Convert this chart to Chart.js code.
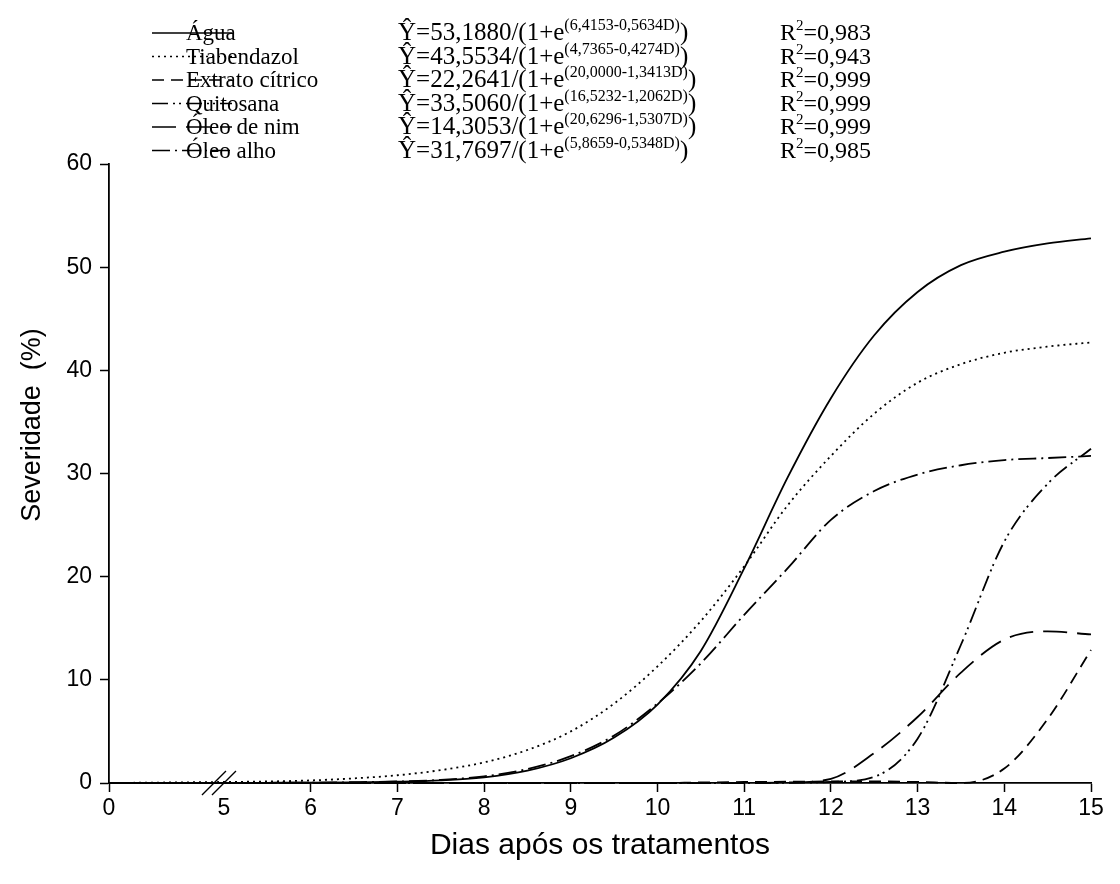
<!DOCTYPE html>
<html>
<head>
<meta charset="utf-8">
<script src="https://cdn.jsdelivr.net/npm/chart.js@4.4.0/dist/chart.umd.min.js"></script>
<style>
    html, body { margin: 0; padding: 0; background: #fff; }
</style>
</head>
<body>
<canvas id="lineChart" width="1120" height="884"></canvas>
<script>
// days after treatment
const days = [0, 5, 5.5, 6, 6.5, 7, 7.5, 8, 8.5, 9, 9.5, 10, 10.5, 11, 11.5, 12, 12.5, 13, 13.5, 14, 14.5, 15];

const agua        = [0, 0.01, 0.02, 0.03, 0.06, 0.12, 0.25, 0.55, 1.2, 2.4, 4.4, 7.6, 12.8, 20.8, 29.6, 37.3, 43.4, 47.6, 50.2, 51.5, 52.3, 52.8];
const tiabendazol = [0, 0.1, 0.15, 0.25, 0.45, 0.75, 1.25, 2.0, 3.2, 5.0, 7.7, 11.3, 15.7, 21.0, 26.9, 31.7, 35.8, 38.8, 40.6, 41.7, 42.3, 42.7];
const extrato     = [0, 0, 0, 0, 0, 0, 0, 0, 0, 0, 0, 0, 0.05, 0.1, 0.12, 0.15, 0.15, 0.1, 0, 1.4, 6.2, 12.9];
const quitosana   = [0, 0, 0, 0, 0, 0, 0, 0, 0, 0, 0, 0, 0, 0, 0.02, 0.1, 0.6, 4.3, 13.4, 23.4, 29.0, 32.4];
const oleoNim     = [0, 0, 0, 0, 0, 0, 0, 0, 0, 0, 0, 0, 0, 0, 0.05, 0.4, 2.9, 6.4, 10.7, 13.9, 14.7, 14.4];
const oleoAlho    = [0, 0.01, 0.02, 0.04, 0.08, 0.15, 0.3, 0.65, 1.35, 2.6, 4.6, 7.7, 11.6, 16.3, 20.8, 25.5, 28.3, 29.9, 30.8, 31.3, 31.5, 31.7];

const seriesNames = ['Água', 'Tiabendazol', 'Extrato cítrico', 'Quitosana', 'Óleo de nim', 'Óleo alho'];
const eqCoef = ['53,1880', '43,5534', '22,2641', '33,5060', '14,3053', '31,7697'];
const eqExp = ['6,4153-0,5634D', '4,7365-0,4274D', '20,0000-1,3413D', '16,5232-1,2062D', '20,6296-1,5307D', '5,8659-0,5348D'];
const r2 = ['0,983', '0,943', '0,999', '0,999', '0,999', '0,985'];

const tickDays = [0, 5, 6, 7, 8, 9, 10, 11, 12, 13, 14, 15];
const tickLabels = ['0', '5', '6', '7', '8', '9', '10', '11', '12', '13', '14', '15'];

// broken x axis: 0..5 squeezed into a short stretch
const BREAK_AT = 5;
const ZERO_POS = 3.674;
function toAxis(d) {
    return d >= BREAK_AT ? d : ZERO_POS + d * (BREAK_AT - ZERO_POS) / BREAK_AT;
}

function points(values) {
    return days.map((d, i) => ({ x: toAxis(d), y: values[i] }));
}

const serif = '"Liberation Serif", "Times New Roman", serif';
const sans = '"Liberation Sans", Arial, sans-serif';

const eqLegend = {
    id: 'eqLegend',
    afterDraw(chart) {
        const ctx = chart.ctx;
        ctx.save();
        ctx.fillStyle = '#000';
        ctx.strokeStyle = '#000';
        ctx.textBaseline = 'alphabetic';
        chart.data.datasets.forEach((ds, i) => {
            const y = 33 + i * 23.5;
            const base = y + 7;
            ctx.lineWidth = 1.6;
            ctx.setLineDash(ds.borderDash || []);
            ctx.beginPath();
            ctx.moveTo(152, y);
            ctx.lineTo(232, y);
            ctx.stroke();
            ctx.setLineDash([]);

            ctx.font = '23px ' + serif;
            ctx.fillText(seriesNames[i], 186, base);

            let x = 398;
            const head = 'Ŷ=' + eqCoef[i] + '/(1+e';
            ctx.font = '25px ' + serif;
            ctx.fillText(head, x, base);
            x += ctx.measureText(head).width;
            ctx.font = '16px ' + serif;
            const sup = '(' + eqExp[i] + ')';
            ctx.fillText(sup, x, base - 10);
            x += ctx.measureText(sup).width;
            ctx.font = '25px ' + serif;
            ctx.fillText(')', x, base);

            x = 780;
            ctx.font = '24px ' + serif;
            ctx.fillText('R', x, base);
            x += ctx.measureText('R').width;
            ctx.font = '15px ' + serif;
            ctx.fillText('2', x, base - 10);
            x += ctx.measureText('2').width;
            ctx.font = '24px ' + serif;
            ctx.fillText('=' + r2[i], x, base);
        });
        ctx.restore();
    }
};

const axisBreak = {
    id: 'axisBreak',
    afterDraw(chart) {
        const ctx = chart.ctx;
        const xs = chart.scales.x;
        const y0 = chart.scales.y.getPixelForValue(0);
        const px = xs.getPixelForValue(BREAK_AT);
        ctx.save();
        ctx.strokeStyle = '#000';
        ctx.lineWidth = 1.3;
        [px - 10, px].forEach(c => {
            ctx.beginPath();
            ctx.moveTo(c - 12, y0 + 12);
            ctx.lineTo(c + 12, y0 - 12);
            ctx.stroke();
        });
        // y axis title sits a bit above the middle of the axis
        ctx.translate(33, 425);
        ctx.rotate(-Math.PI / 2);
        ctx.fillStyle = '#000';
        ctx.font = '27px ' + sans;
        ctx.textAlign = 'center';
        ctx.textBaseline = 'middle';
        ctx.fillText('Severidade  (%)', 0, 0);
        ctx.restore();
    }
};

Chart.defaults.font.family = sans;
Chart.defaults.color = '#000';

function lineSet(label, values, dash) {
    return {
        label: label,
        data: points(values),
        borderColor: '#000',
        borderWidth: 1.8,
        borderDash: dash,
        pointRadius: 0,
        fill: false,
        cubicInterpolationMode: 'monotone',
        clip: false
    };
}

const ctx = document.getElementById('lineChart').getContext('2d');
new Chart(ctx, {
    type: 'line',
    data: {
        datasets: [
            lineSet('Água', agua, []),
            lineSet('Tiabendazol', tiabendazol, [2, 4]),
            lineSet('Extrato cítrico', extrato, [12, 7]),
            lineSet('Quitosana', quitosana, [16, 5, 2, 4, 2, 5]),
            lineSet('Óleo de nim', oleoNim, [24, 10]),
            lineSet('Óleo alho', oleoAlho, [18, 5, 2, 5])
        ]
    },
    options: {
        responsive: false,
        animation: false,
        layout: { padding: { top: 164, right: 29, left: 0, bottom: 0 } },
        plugins: {
            legend: { display: false },
            tooltip: { enabled: false }
        },
        scales: {
            x: {
                type: 'linear',
                min: ZERO_POS,
                max: 15,
                afterBuildTicks: scale => {
                    scale.ticks = tickDays.map(d => ({ value: toAxis(d) }));
                },
                afterFit: scale => { scale.height = 101; },
                ticks: {
                    font: { size: 23 },
                    padding: 3,
                    maxRotation: 0,
                    autoSkip: false,
                    callback: (value, index) => tickLabels[index]
                },
                grid: {
                    drawOnChartArea: false,
                    tickLength: 9,
                    tickWidth: 1.5,
                    tickColor: c => (c.index === 1 ? 'rgba(0,0,0,0)' : '#000')
                },
                border: { color: '#000', width: 1.8 },
                title: {
                    display: true,
                    text: 'Dias após os tratamentos',
                    font: { size: 30 },
                    padding: { top: 0, bottom: 20 }
                }
            },
            y: {
                min: 0,
                max: 60,
                afterFit: scale => { scale.width = 109; },
                ticks: {
                    stepSize: 10,
                    font: { size: 23 },
                    padding: 8
                },
                grid: {
                    drawOnChartArea: false,
                    tickLength: 9,
                    tickWidth: 1.5,
                    tickColor: '#000'
                },
                border: { color: '#000', width: 1.8 }
            }
        }
    },
    plugins: [eqLegend, axisBreak]
});
</script>
</body>
</html>
